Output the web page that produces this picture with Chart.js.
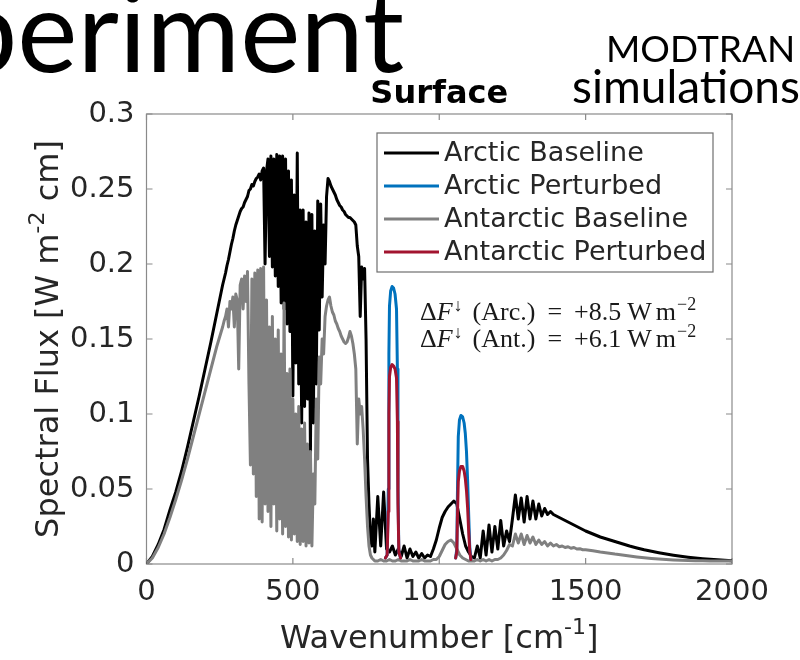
<!DOCTYPE html>
<html>
<head>
<meta charset="utf-8">
<style>
  html, body { margin: 0; padding: 0; background: #fff; }
  #wrap { position: relative; width: 800px; height: 660px; overflow: hidden; }
  canvas { display: block; }
</style>
<script src="https://cdn.jsdelivr.net/npm/chart.js@4.4.0/dist/chart.umd.min.js"></script>
</head>
<body>
<div id="wrap"><canvas id="myChart" width="800" height="660"></canvas></div>
<script>
// Datos

var wavenumber = [
  0, 20, 40, 60, 80, 100, 120, 140, 160, 180,
  200, 220, 240, 260,
  265, 270, 275, 280, 285, 290, 295, 300, 305, 310,
  315, 320, 325, 330, 335, 340, 345, 350, 355, 360,
  365, 370, 375, 380, 385, 390, 395, 400, 405, 410,
  415, 420, 425, 430, 435, 440, 445, 450, 455, 460,
  465, 470, 475, 480, 485, 490, 495, 500, 505, 510,
  515, 520, 525, 530, 535, 540, 545, 550, 555, 560,
  565, 570, 575, 580, 585, 590, 595, 600, 605, 610,
  615, 620, 625, 630, 635, 640, 645, 650, 655, 660,
  665, 670, 675, 680, 685, 690, 695, 700, 705, 710,
  715, 720, 725, 730, 735, 740, 745, 750, 755, 760,
  765, 770, 775, 780,
  790, 800, 810, 820, 830, 840, 850, 860, 870, 880,
  890, 900, 910, 920, 930, 940, 950, 960, 970, 980,
  990, 1000, 1010, 1020, 1030, 1040, 1050, 1060, 1070, 1080,
  1090, 1100, 1110, 1120, 1130, 1140, 1150, 1160, 1170, 1180,
  1190, 1200, 1210, 1220, 1230, 1240, 1250, 1260, 1270, 1280,
  1290, 1300, 1310, 1320, 1330, 1340, 1350, 1360, 1370, 1380,
  1390, 1400, 1410, 1420, 1430, 1440, 1450, 1460, 1470, 1480,
  1490, 1500,
  1525, 1550, 1575, 1600, 1625, 1650, 1675, 1700, 1725, 1750,
  1775, 1800, 1825, 1850, 1875, 1900, 1925, 1950, 1975, 2000
];

var arcticBaseline = [
  0, 0.005, 0.013, 0.023, 0.036, 0.048, 0.062, 0.078, 0.095, 0.112,
  0.13, 0.148, 0.167, 0.186,
  0.19, 0.194, 0.199, 0.203, 0.208, 0.213, 0.217, 0.222, 0.226, 0.229,
  0.232, 0.235, 0.237, 0.238, 0.241, 0.243, 0.245, 0.249, 0.25, 0.253,
  0.252, 0.255, 0.257, 0.258, 0.26, 0.256, 0.262, 0.264, 0.2, 0.262,
  0.27, 0.205, 0.272, 0.198, 0.27, 0.192, 0.273, 0.185, 0.272, 0.174,
  0.272, 0.17, 0.27, 0.16, 0.262, 0.155, 0.256, 0.112, 0.246, 0.134,
  0.274, 0.12, 0.236, 0.094, 0.236, 0.105, 0.228, 0.11, 0.234, 0.074,
  0.233, 0.094, 0.222, 0.12, 0.242, 0.156, 0.24, 0.178, 0.226, 0.2,
  0.245, 0.257, 0.255, 0.252, 0.25, 0.248, 0.246, 0.243, 0.241, 0.239,
  0.238, 0.236, 0.235, 0.233, 0.232, 0.231, 0.231, 0.23, 0.229, 0.228,
  0.226, 0.212, 0.205, 0.165, 0.198, 0.19, 0.197, 0.15, 0.07, 0.04,
  0.018, 0.012, 0.03, 0.008,
  0.045, 0.012, 0.048, 0.01, 0.008, 0.012, 0.006, 0.01, 0.005, 0.012,
  0.004, 0.01, 0.005, 0.008, 0.004, 0.007, 0.004, 0.006, 0.005, 0.01,
  0.016, 0.024, 0.031, 0.035, 0.038, 0.04, 0.042, 0.04, 0.03, 0.02,
  0.012, 0.008, 0.005, 0.004, 0.012, 0.004, 0.022, 0.006, 0.026, 0.008,
  0.025, 0.01, 0.029, 0.012, 0.022, 0.015, 0.03, 0.046, 0.03, 0.044,
  0.028, 0.045, 0.03, 0.042, 0.03, 0.04, 0.032, 0.037, 0.033, 0.035,
  0.033, 0.032, 0.031, 0.03, 0.029, 0.028, 0.027, 0.026, 0.025, 0.024,
  0.023, 0.022,
  0.02, 0.018, 0.0165, 0.015, 0.0135, 0.012, 0.0107, 0.0095, 0.0085, 0.0075,
  0.0066, 0.0058, 0.0051, 0.0045, 0.004, 0.0035, 0.0031, 0.0028, 0.0025, 0.0022
];

var antarcticBaseline = [
  0, 0.004, 0.011, 0.02, 0.031, 0.043, 0.056, 0.07, 0.085, 0.1,
  0.115, 0.13, 0.145, 0.158,
  0.162, 0.165, 0.17, 0.158, 0.175, 0.17, 0.178, 0.158, 0.18, 0.176,
  0.13, 0.186, 0.19, 0.17, 0.192, 0.175, 0.195, 0.12, 0.066, 0.19,
  0.06, 0.194, 0.045, 0.196, 0.03, 0.197, 0.028, 0.198, 0.04, 0.176,
  0.035, 0.158, 0.025, 0.165, 0.04, 0.15, 0.022, 0.156, 0.03, 0.14,
  0.02, 0.174, 0.025, 0.127, 0.018, 0.13, 0.016, 0.11, 0.02, 0.1,
  0.015, 0.105, 0.013, 0.09, 0.015, 0.094, 0.012, 0.08, 0.014, 0.075,
  0.012, 0.06, 0.04, 0.11, 0.07, 0.138, 0.12, 0.15, 0.14, 0.165,
  0.172, 0.176, 0.178, 0.172, 0.168, 0.166, 0.162, 0.16, 0.157, 0.155,
  0.152, 0.15, 0.148, 0.147, 0.148, 0.151, 0.155, 0.152, 0.147, 0.14,
  0.13, 0.08, 0.11, 0.1, 0.105, 0.09, 0.07, 0.045, 0.025, 0.012,
  0.006, 0.004, 0.003, 0.002,
  0.002, 0.003, 0.002, 0.002, 0.003, 0.002, 0.002, 0.003, 0.002, 0.002,
  0.002, 0.003, 0.002, 0.002, 0.002, 0.003, 0.002, 0.002, 0.002, 0.003,
  0.003, 0.005, 0.009, 0.013, 0.015, 0.016, 0.014, 0.01, 0.006, 0.004,
  0.003, 0.002, 0.002, 0.002, 0.003, 0.002, 0.003, 0.002, 0.003, 0.002,
  0.003, 0.003, 0.004, 0.006, 0.009, 0.013, 0.012, 0.02, 0.014, 0.02,
  0.013, 0.019, 0.014, 0.018, 0.013, 0.016, 0.013, 0.015, 0.012, 0.014,
  0.012, 0.013, 0.0115, 0.012, 0.011, 0.0115, 0.0105, 0.011, 0.01, 0.0102,
  0.0095, 0.0095,
  0.0088, 0.008, 0.0074, 0.0066, 0.006, 0.0053, 0.0047, 0.0042, 0.0037, 0.0033,
  0.003, 0.0027, 0.0025, 0.0023, 0.0022, 0.0021, 0.002, 0.002, 0.002, 0.002
];

// Perturbados: solo las dos ventanas (null corta la linea)
var perturbWavenumber = [
  816, 822, 826, 828, 830, 834, 839, 844, 849, 854, 857, 859, 862, 868,
  940,
  1056, 1060, 1062, 1065, 1069, 1074, 1080, 1085, 1089, 1093, 1097, 1101, 1104, 1108
];
var arcticPerturbed = [
  0.004, 0.006, 0.05, 0.14, 0.172, 0.182, 0.185, 0.184, 0.18, 0.17, 0.13, 0.05, 0.008, 0.004,
  null,
  0.004, 0.01, 0.045, 0.085, 0.096, 0.099, 0.098, 0.094, 0.087, 0.075, 0.055, 0.03, 0.012, 0.003
];
var antarcticPerturbed = [
  0.004, 0.006, 0.035, 0.1, 0.125, 0.131, 0.133, 0.132, 0.13, 0.124, 0.095, 0.04, 0.008, 0.004,
  null,
  0.004, 0.008, 0.03, 0.055, 0.062, 0.065, 0.065, 0.062, 0.057, 0.049, 0.037, 0.02, 0.009, 0.003
];

var seriesNames = ["Arctic Baseline", "Arctic Perturbed", "Antarctic Baseline", "Antarctic Perturbed"];
var seriesColors = ["#000000", "#0072bd", "#808080", "#a2142f"];
var xTickLabels = ["0", "500", "1000", "1500", "2000"];
var yTickLabels = ["0", "0.05", "0.1", "0.15", "0.2", "0.25", "0.3"];
var deltaRegions = ["Arc.", "Ant."];
var deltaValues = ["+8.5", "+6.1"];


function puntos(xs, ys) {
  var pts = [];
  for (var i = 0; i < xs.length; i++) {
    pts.push({ x: xs[i], y: ys[i] });
  }
  return pts;
}

// Texto con partes: [texto, fuente, desplazamiento vertical, espacio despues]
function textoRico(ctx, partes, x, y, centrado) {
  var total = 0;
  partes.forEach(function(p) {
    ctx.font = p[1];
    total += ctx.measureText(p[0]).width + (p[3] || 0);
  });
  var cx = centrado ? x - total / 2 : x;
  partes.forEach(function(p) {
    ctx.font = p[1];
    ctx.fillText(p[0], cx, y + (p[2] || 0));
    cx += ctx.measureText(p[0]).width + (p[3] || 0);
  });
}

var sans = "'DejaVu Sans'";
var slide = "Lato, 'Open Sans', sans-serif";
var serif = "'Liberation Serif', 'DejaVu Serif', serif";

var figuraPlugin = {
  id: "figura",
  beforeDatasetsDraw: function(chart) {
    var ctx = chart.ctx;
    var a = chart.chartArea;
    var xs = chart.scales.x;
    var ys = chart.scales.y;
    ctx.save();
    ctx.strokeStyle = "#8a8a8a";
    ctx.lineWidth = 1.2;
    ctx.strokeRect(a.left, a.top, a.right - a.left, a.bottom - a.top);
    ctx.beginPath();
    xs.ticks.forEach(function(t) {
      var px = xs.getPixelForValue(t.value);
      ctx.moveTo(px, a.bottom);
      ctx.lineTo(px, a.bottom - 6);
      ctx.moveTo(px, a.top);
      ctx.lineTo(px, a.top + 6);
    });
    ys.ticks.forEach(function(t) {
      var py = ys.getPixelForValue(t.value);
      ctx.moveTo(a.left, py);
      ctx.lineTo(a.left + 6, py);
      ctx.moveTo(a.right, py);
      ctx.lineTo(a.right - 6, py);
    });
    ctx.stroke();
    ctx.restore();
  },
  afterDatasetsDraw: function(chart) {
    var ctx = chart.ctx;
    ctx.save();

    // Leyenda
    ctx.fillStyle = "#ffffff";
    ctx.fillRect(377, 133, 336, 139);
    ctx.strokeStyle = "#6e6e6e";
    ctx.lineWidth = 1.2;
    ctx.strokeRect(377, 133, 336, 139);
    ctx.textBaseline = "middle";
    ctx.textAlign = "left";
    ctx.font = "27px " + sans;
    chart.data.datasets.forEach(function(ds, i) {
      var y = 153 + i * 33;
      ctx.strokeStyle = ds.borderColor;
      ctx.lineWidth = 3;
      ctx.beginPath();
      ctx.moveTo(384, y);
      ctx.lineTo(439, y);
      ctx.stroke();
      ctx.fillStyle = "#262626";
      ctx.fillText(ds.label, 444, y + 1);
    });

    // Anotacion Delta F
    ctx.textBaseline = "alphabetic";
    ctx.fillStyle = "#1a1a1a";
    var f = "26px " + serif;
    var fi = "italic 26px " + serif;
    var fs = "18px " + serif;
    for (var k = 0; k < deltaRegions.length; k++) {
      textoRico(ctx, [
        ["\u0394", f],
        ["F", fi, 0, 1],
        ["\u2193", fs, -9, 10],
        ["(" + deltaRegions[k] + ")", f, 0, 12],
        ["=", f, 0, 12],
        [deltaValues[k], f, 0, 6],
        ["W", f, 0, 4],
        ["m", f, 0, 1],
        ["\u22122", fs, -10]
      ], 420, 320 + k * 27, false);
    }
    ctx.restore();
  },
  afterDraw: function(chart) {
    var ctx = chart.ctx;
    var a = chart.chartArea;
    var cx = (a.left + a.right) / 2;
    ctx.save();
    ctx.textBaseline = "alphabetic";
    ctx.textAlign = "left";

    // Titulo
    ctx.fillStyle = "#000000";
    textoRico(ctx, [["Surface", "bold 32px " + sans]], cx, 103, true);

    // Titulos de ejes
    ctx.fillStyle = "#262626";
    textoRico(ctx, [
      ["Wavenumber [cm", "32px " + sans],
      ["-1", "22px " + sans, -14],
      ["]", "32px " + sans]
    ], cx, 648, true);

    ctx.save();
    ctx.translate(58, (a.top + a.bottom) / 2);
    ctx.rotate(-Math.PI / 2);
    textoRico(ctx, [
      ["Spectral Flux [W m", "32px " + sans],
      ["-2", "22px " + sans, -14],
      [" cm]", "32px " + sans]
    ], 0, 0, true);
    ctx.restore();

    // Texto de la diapositiva
    ctx.fillStyle = "#000000";
    ctx.font = "114px " + slide;
    ctx.textAlign = "right";
    ctx.fillText("periment", 404, 72);
    ctx.textAlign = "left";
    ctx.font = "37px " + slide;
    ctx.fillText("MODTRAN", 606, 62);
    ctx.font = "46px " + slide;
    ctx.fillText("simulations", 572, 103);
    ctx.restore();
  }
};

var comun = {
  borderWidth: 3,
  pointRadius: 0,
  tension: 0,
  fill: false,
  spanGaps: false,
  borderJoinStyle: "round",
  borderCapStyle: "round"
};

var chartCanva = document.getElementById("myChart");

var fluxChart = new Chart(chartCanva, {
  type: "line",
  data: {
    datasets: [
      Object.assign({ label: seriesNames[0], data: puntos(wavenumber, arcticBaseline), borderColor: seriesColors[0], order: 4 }, comun),
      Object.assign({ label: seriesNames[1], data: puntos(perturbWavenumber, arcticPerturbed), borderColor: seriesColors[1], order: 3 }, comun),
      Object.assign({ label: seriesNames[2], data: puntos(wavenumber, antarcticBaseline), borderColor: seriesColors[2], order: 2 }, comun),
      Object.assign({ label: seriesNames[3], data: puntos(perturbWavenumber, antarcticPerturbed), borderColor: seriesColors[3], order: 1 }, comun)
    ]
  },
  options: {
    responsive: false,
    animation: false,
    layout: { padding: { top: 114, right: 68, bottom: 0, left: 0 } },
    plugins: {
      legend: { display: false },
      tooltip: { enabled: false },
      title: { display: false }
    },
    scales: {
      x: {
        type: "linear",
        min: 0,
        max: 2000,
        grid: { display: false, drawTicks: false },
        border: { display: false },
        ticks: {
          stepSize: 500,
          autoSkip: false,
          maxRotation: 0,
          padding: 11,
          color: "#262626",
          font: { family: sans, size: 29 },
          callback: function(v, i) { return xTickLabels[i]; }
        },
        afterFit: function(scale) { scale.height = 96; }
      },
      y: {
        type: "linear",
        min: 0,
        max: 0.3,
        grid: { display: false, drawTicks: false },
        border: { display: false },
        ticks: {
          stepSize: 0.05,
          autoSkip: false,
          padding: 12,
          color: "#262626",
          font: { family: sans, size: 29 },
          callback: function(v, i) { return yTickLabels[i]; }
        },
        afterFit: function(scale) { scale.width = 146.5; }
      }
    }
  },
  plugins: [figuraPlugin]
});
</script>
</body>
</html>
